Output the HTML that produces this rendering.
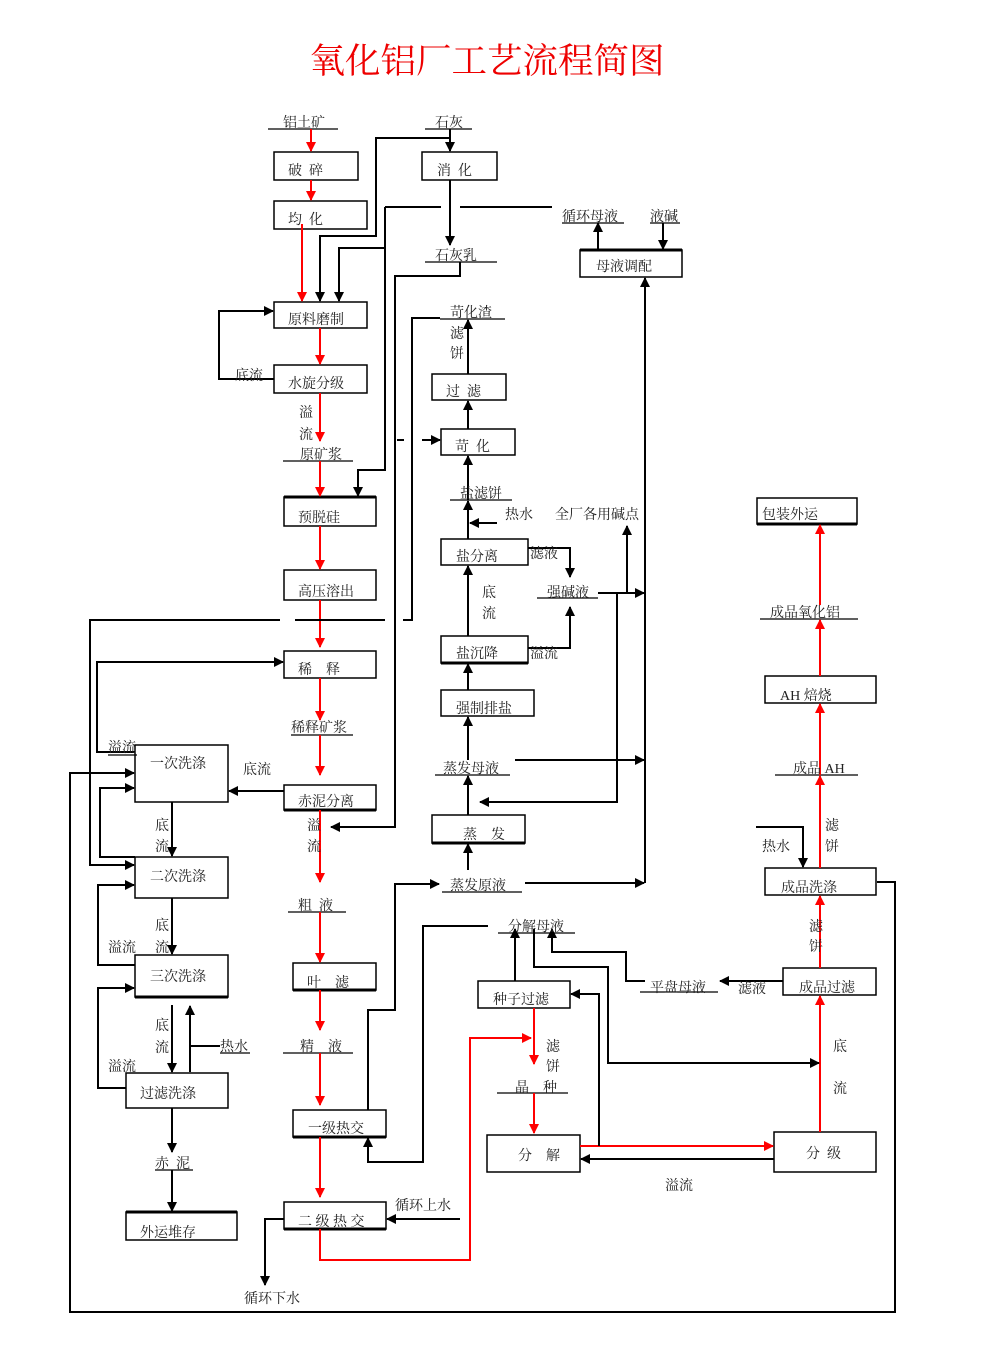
<!DOCTYPE html>
<html><head><meta charset="utf-8">
<style>
html,body{margin:0;padding:0;background:#fff;}
svg{display:block;}
text{font-family:"Liberation Serif","Noto Serif CJK SC","Noto Sans CJK SC",serif;font-size:14px;fill:#222;white-space:pre;}
</style></head>
<body>
<svg width="987" height="1349" viewBox="0 0 987 1349" xmlns="http://www.w3.org/2000/svg" xml:space="preserve">
<defs>
<marker id="a" markerWidth="10" markerHeight="10" refX="9" refY="5" orient="auto" markerUnits="userSpaceOnUse"><path d="M0,0 L10,5 L0,10 Z" fill="#000"/></marker>
<marker id="r" markerWidth="10" markerHeight="10" refX="9" refY="5" orient="auto" markerUnits="userSpaceOnUse"><path d="M0,0 L10,5 L0,10 Z" fill="#f00"/></marker>
</defs>
<rect width="987" height="1349" fill="#fff"/>
<text x="487" y="73" text-anchor="middle" style="font-size:35px;fill:#e00" textLength="355" lengthAdjust="spacingAndGlyphs">氧化铝厂工艺流程简图</text>

<g fill="none" stroke="#000" stroke-width="1.5">
<rect x="274" y="152" width="84" height="28"/>
<rect x="274" y="201" width="93" height="28"/>
<rect x="274" y="302" width="93" height="26"/>
<rect x="274" y="365" width="93" height="28"/>
<rect x="284" y="497" width="92" height="29"/>
<rect x="284" y="570" width="92" height="30"/>
<rect x="284" y="651" width="92" height="27"/>
<rect x="284" y="785" width="92" height="25"/>
<rect x="293" y="963" width="83" height="27"/>
<rect x="293" y="1110" width="93" height="27"/>
<rect x="284" y="1202" width="102" height="27"/>
<rect x="135" y="745" width="93" height="57"/>
<rect x="135" y="857" width="93" height="41"/>
<rect x="135" y="955" width="93" height="42"/>
<rect x="126" y="1073" width="102" height="35"/>
<rect x="126" y="1212" width="111" height="28"/>
<rect x="422" y="152" width="75" height="28"/>
<rect x="432" y="374" width="74" height="26"/>
<rect x="441" y="429" width="74" height="26"/>
<rect x="441" y="539" width="87" height="26"/>
<rect x="441" y="636" width="87" height="27"/>
<rect x="441" y="690" width="93" height="26"/>
<rect x="432" y="815" width="93" height="28"/>
<rect x="580" y="250" width="102" height="27"/>
<rect x="478" y="981" width="92" height="27"/>
<rect x="487" y="1135" width="93" height="37"/>
<rect x="774" y="1132" width="102" height="40"/>
<rect x="783" y="968" width="93" height="27"/>
<rect x="765" y="868" width="111" height="27"/>
<rect x="765" y="676" width="111" height="27"/>
<rect x="757" y="498" width="100" height="26"/>
</g>
<g stroke="#000" stroke-width="3">
<line x1="284" y1="497" x2="376" y2="497"/><line x1="284" y1="810" x2="376" y2="810"/>
<line x1="293" y1="990" x2="376" y2="990"/><line x1="293" y1="1137" x2="386" y2="1137"/>
<line x1="284" y1="1229" x2="386" y2="1229"/><line x1="135" y1="997" x2="228" y2="997"/>
<line x1="126" y1="1212" x2="237" y2="1212"/><line x1="441" y1="663" x2="528" y2="663"/>
<line x1="432" y1="843" x2="525" y2="843"/><line x1="580" y1="250" x2="682" y2="250"/>
<line x1="757" y1="524" x2="857" y2="524"/>
</g>

<g stroke="#000" stroke-width="1.3">
<line x1="268" y1="129" x2="338" y2="129"/><line x1="425" y1="129" x2="472" y2="129"/>
<line x1="425" y1="262" x2="497" y2="262"/><line x1="283" y1="461" x2="353" y2="461"/>
<line x1="291" y1="735" x2="353" y2="735"/><line x1="288" y1="912" x2="346" y2="912"/>
<line x1="283" y1="1053" x2="353" y2="1053"/><line x1="155" y1="1170" x2="193" y2="1170"/>
<line x1="220" y1="1053" x2="250" y2="1053"/><line x1="108" y1="755" x2="137" y2="755"/>
<line x1="440" y1="319" x2="505" y2="319"/><line x1="450" y1="500" x2="512" y2="500"/>
<line x1="537" y1="598" x2="598" y2="598"/><line x1="435" y1="775" x2="510" y2="775"/>
<line x1="442" y1="892" x2="522" y2="892"/><line x1="562" y1="223" x2="624" y2="223"/>
<line x1="650" y1="223" x2="680" y2="223"/><line x1="498" y1="933" x2="575" y2="933"/>
<line x1="497" y1="1093" x2="568" y2="1093"/><line x1="640" y1="992" x2="718" y2="992"/>
<line x1="775" y1="775" x2="858" y2="775"/><line x1="760" y1="619" x2="858" y2="619"/>
</g>

<g stroke="#f00" stroke-width="2" fill="none">
<line x1="311" y1="129" x2="311" y2="151" marker-end="url(#r)"/>
<line x1="311" y1="180" x2="311" y2="200" marker-end="url(#r)"/>
<line x1="302" y1="224" x2="302" y2="301" marker-end="url(#r)"/>
<line x1="320" y1="328" x2="320" y2="364" marker-end="url(#r)"/>
<line x1="320" y1="393" x2="320" y2="441" marker-end="url(#r)"/>
<line x1="320" y1="461" x2="320" y2="496" marker-end="url(#r)"/>
<line x1="320" y1="526" x2="320" y2="569" marker-end="url(#r)"/>
<line x1="320" y1="600" x2="320" y2="647" marker-end="url(#r)"/>
<line x1="320" y1="678" x2="320" y2="720" marker-end="url(#r)"/>
<line x1="320" y1="735" x2="320" y2="775" marker-end="url(#r)"/>
<line x1="320" y1="810" x2="320" y2="882" marker-end="url(#r)"/>
<line x1="320" y1="912" x2="320" y2="962" marker-end="url(#r)"/>
<line x1="320" y1="990" x2="320" y2="1030" marker-end="url(#r)"/>
<line x1="320" y1="1053" x2="320" y2="1105" marker-end="url(#r)"/>
<line x1="320" y1="1137" x2="320" y2="1197" marker-end="url(#r)"/>
<polyline points="320,1229 320,1260 470,1260 470,1038 531,1038" marker-end="url(#r)"/>
<line x1="534" y1="1008" x2="534" y2="1064" marker-end="url(#r)"/>
<line x1="534" y1="1093" x2="534" y2="1133" marker-end="url(#r)"/>
<line x1="580" y1="1146" x2="773" y2="1146" marker-end="url(#r)"/>
<line x1="820" y1="1132" x2="820" y2="996" marker-end="url(#r)"/>
<line x1="820" y1="968" x2="820" y2="896" marker-end="url(#r)"/>
<line x1="820" y1="868" x2="820" y2="776" marker-end="url(#r)"/>
<line x1="820" y1="775" x2="820" y2="704" marker-end="url(#r)"/>
<line x1="820" y1="676" x2="820" y2="620" marker-end="url(#r)"/>
<line x1="820" y1="605" x2="820" y2="525" marker-end="url(#r)"/>
</g>

<g stroke="#000" stroke-width="2" fill="none">
<line x1="450" y1="129" x2="450" y2="151" marker-end="url(#a)"/>
<line x1="450" y1="180" x2="450" y2="245" marker-end="url(#a)"/>
<polyline points="450,138 376,138 376,236 320,236 320,301" marker-end="url(#a)"/>
<polyline points="385,207 441,207" />
<line x1="460" y1="207" x2="552" y2="207"/>
<polyline points="385,207 385,470 358,470 358,496" marker-end="url(#a)"/>
<polyline points="385,248 339,248 339,301" marker-end="url(#a)"/>
<polyline points="274,379 219,379 219,311 273,311" marker-end="url(#a)"/>
<polyline points="460,262 460,276 395,276 395,827 331,827" marker-end="url(#a)"/>
<polyline points="440,318 412,318 412,620 403,620"/>
<line x1="397" y1="440" x2="404" y2="440"/>
<line x1="422" y1="440" x2="440" y2="440" marker-end="url(#a)"/>
<line x1="468" y1="374" x2="468" y2="320" marker-end="url(#a)"/>
<line x1="468" y1="429" x2="468" y2="401" marker-end="url(#a)"/>
<line x1="468" y1="500" x2="468" y2="456" marker-end="url(#a)"/>
<line x1="468" y1="539" x2="468" y2="501" marker-end="url(#a)"/>
<line x1="497" y1="523" x2="470" y2="523" marker-end="url(#a)"/>
<polyline points="528,548 570,548 570,577" marker-end="url(#a)"/>
<polyline points="528,648 570,648 570,607" marker-end="url(#a)"/>
<line x1="468" y1="636" x2="468" y2="566" marker-end="url(#a)"/>
<line x1="468" y1="690" x2="468" y2="664" marker-end="url(#a)"/>
<line x1="468" y1="760" x2="468" y2="717" marker-end="url(#a)"/>
<line x1="468" y1="815" x2="468" y2="776" marker-end="url(#a)"/>
<line x1="468" y1="870" x2="468" y2="844" marker-end="url(#a)"/>
<line x1="598" y1="593" x2="644" y2="593" marker-end="url(#a)"/>
<line x1="627" y1="593" x2="627" y2="526" marker-end="url(#a)"/>
<polyline points="617,593 617,802 480,802" marker-end="url(#a)"/>
<line x1="515" y1="760" x2="644" y2="760" marker-end="url(#a)"/>
<line x1="525" y1="883" x2="644" y2="883" marker-end="url(#a)"/>
<line x1="645" y1="883" x2="645" y2="278" marker-end="url(#a)"/>
<line x1="598" y1="250" x2="598" y2="223" marker-end="url(#a)"/>
<line x1="663" y1="223" x2="663" y2="249" marker-end="url(#a)"/>
<polyline points="280,620 90,620 90,865 134,865" marker-end="url(#a)"/>
<line x1="295" y1="620" x2="385" y2="620"/>
<polyline points="135,752 97,752 97,662 283,662" marker-end="url(#a)"/>
<line x1="284" y1="791" x2="229" y2="791" marker-end="url(#a)"/>
<polyline points="877,882 895,882 895,1312 70,1312 70,773 134,773" marker-end="url(#a)"/>
<polyline points="135,857 100,857 100,788 134,788" marker-end="url(#a)"/>
<line x1="172" y1="802" x2="172" y2="856" marker-end="url(#a)"/>
<polyline points="135,965 98,965 98,885 134,885" marker-end="url(#a)"/>
<line x1="172" y1="898" x2="172" y2="954" marker-end="url(#a)"/>
<polyline points="126,1088 98,1088 98,988 134,988" marker-end="url(#a)"/>
<line x1="172" y1="1005" x2="172" y2="1072" marker-end="url(#a)"/>
<line x1="190" y1="1072" x2="190" y2="1006" marker-end="url(#a)"/>
<line x1="190" y1="1046" x2="220" y2="1046"/>
<line x1="172" y1="1108" x2="172" y2="1152" marker-end="url(#a)"/>
<line x1="172" y1="1170" x2="172" y2="1211" marker-end="url(#a)"/>
<line x1="460" y1="1219" x2="387" y2="1219" marker-end="url(#a)"/>
<polyline points="284,1219 265,1219 265,1285" marker-end="url(#a)"/>
<polyline points="488,926 423,926 423,1162 368,1162 368,1138" marker-end="url(#a)"/>
<polyline points="368,1110 368,1010 395,1010 395,884 439,884" marker-end="url(#a)"/>
<line x1="515" y1="981" x2="515" y2="929" marker-end="url(#a)"/>
<polyline points="534,929 534,967 608,967 608,1063 819,1063" marker-end="url(#a)"/>
<polyline points="645,981 626,981 626,952 552,952 552,929" marker-end="url(#a)"/>
<polyline points="599,1146 599,994 571,994" marker-end="url(#a)"/>
<line x1="783" y1="981" x2="720" y2="981" marker-end="url(#a)"/>
<line x1="774" y1="1159" x2="581" y2="1159" marker-end="url(#a)"/>
<polyline points="756,827 803,827 803,867" marker-end="url(#a)"/>
</g>

<g>
<text x="283" y="127">铝土矿</text>
<text x="288" y="175">破  碎</text>
<text x="288" y="224">均  化</text>
<text x="288" y="324">原料磨制</text>
<text x="288" y="388">水旋分级</text>
<text x="235" y="380">底流</text>
<text x="299" y="417">溢</text><text x="299" y="439">流</text>
<text x="300" y="459">原矿浆</text>
<text x="298" y="522">预脱硅</text>
<text x="298" y="596">高压溶出</text>
<text x="298" y="674">稀    释</text>
<text x="291" y="732">稀释矿浆</text>
<text x="298" y="806">赤泥分离</text>
<text x="307" y="830">溢</text><text x="307" y="851">流</text>
<text x="298" y="910">粗  液</text>
<text x="307" y="987">叶    滤</text>
<text x="300" y="1051">精    液</text>
<text x="308" y="1133">一级热交</text>
<text x="298" y="1226">二 级 热 交</text>
<text x="395" y="1210">循环上水</text>
<text x="244" y="1303">循环下水</text>
<text x="150" y="768">一次洗涤</text>
<text x="243" y="774">底流</text>
<text x="108" y="752">溢流</text>
<text x="155" y="830">底</text><text x="155" y="851">流</text>
<text x="150" y="881">二次洗涤</text>
<text x="155" y="930">底</text><text x="108" y="952">溢流</text><text x="155" y="952">流</text>
<text x="150" y="981">三次洗涤</text>
<text x="155" y="1030">底</text><text x="155" y="1052">流</text>
<text x="108" y="1071">溢流</text>
<text x="220" y="1051">热水</text>
<text x="140" y="1098">过滤洗涤</text>
<text x="155" y="1168">赤  泥</text>
<text x="140" y="1237">外运堆存</text>
<text x="435" y="127">石灰</text>
<text x="437" y="175">消  化</text>
<text x="435" y="260">石灰乳</text>
<text x="450" y="317">苛化渣</text>
<text x="450" y="338">滤</text><text x="450" y="358">饼</text>
<text x="446" y="396">过  滤</text>
<text x="455" y="451">苛  化</text>
<text x="460" y="498">盐滤饼</text>
<text x="505" y="519">热水</text>
<text x="555" y="519">全厂各用碱点</text>
<text x="456" y="561">盐分离</text>
<text x="530" y="558">滤液</text>
<text x="547" y="597">强碱液</text>
<text x="482" y="597">底</text><text x="482" y="618">流</text>
<text x="456" y="658">盐沉降</text>
<text x="530" y="658">溢流</text>
<text x="456" y="713">强制排盐</text>
<text x="443" y="773">蒸发母液</text>
<text x="463" y="839">蒸    发</text>
<text x="450" y="890">蒸发原液</text>
<text x="562" y="221">循环母液</text>
<text x="650" y="221">液碱</text>
<text x="596" y="271">母液调配</text>
<text x="508" y="931">分解母液</text>
<text x="493" y="1004">种子过滤</text>
<text x="546" y="1051">滤</text><text x="546" y="1071">饼</text>
<text x="515" y="1092">晶    种</text>
<text x="518" y="1160">分    解</text>
<text x="806" y="1158">分  级</text>
<text x="665" y="1190">溢流</text>
<text x="650" y="992">平盘母液</text>
<text x="738" y="993">滤液</text>
<text x="799" y="992">成品过滤</text>
<text x="833" y="1051">底</text><text x="833" y="1093">流</text>
<text x="809" y="931">滤</text><text x="809" y="951">饼</text>
<text x="781" y="892">成品洗涤</text>
<text x="762" y="851">热水</text>
<text x="825" y="830">滤</text><text x="825" y="851">饼</text>
<text x="793" y="773">成品 AH</text>
<text x="780" y="700">AH 焙烧</text>
<text x="770" y="617">成品氧化铝</text>
<text x="762" y="519">包装外运</text>
</g>
</svg>
</body></html>
